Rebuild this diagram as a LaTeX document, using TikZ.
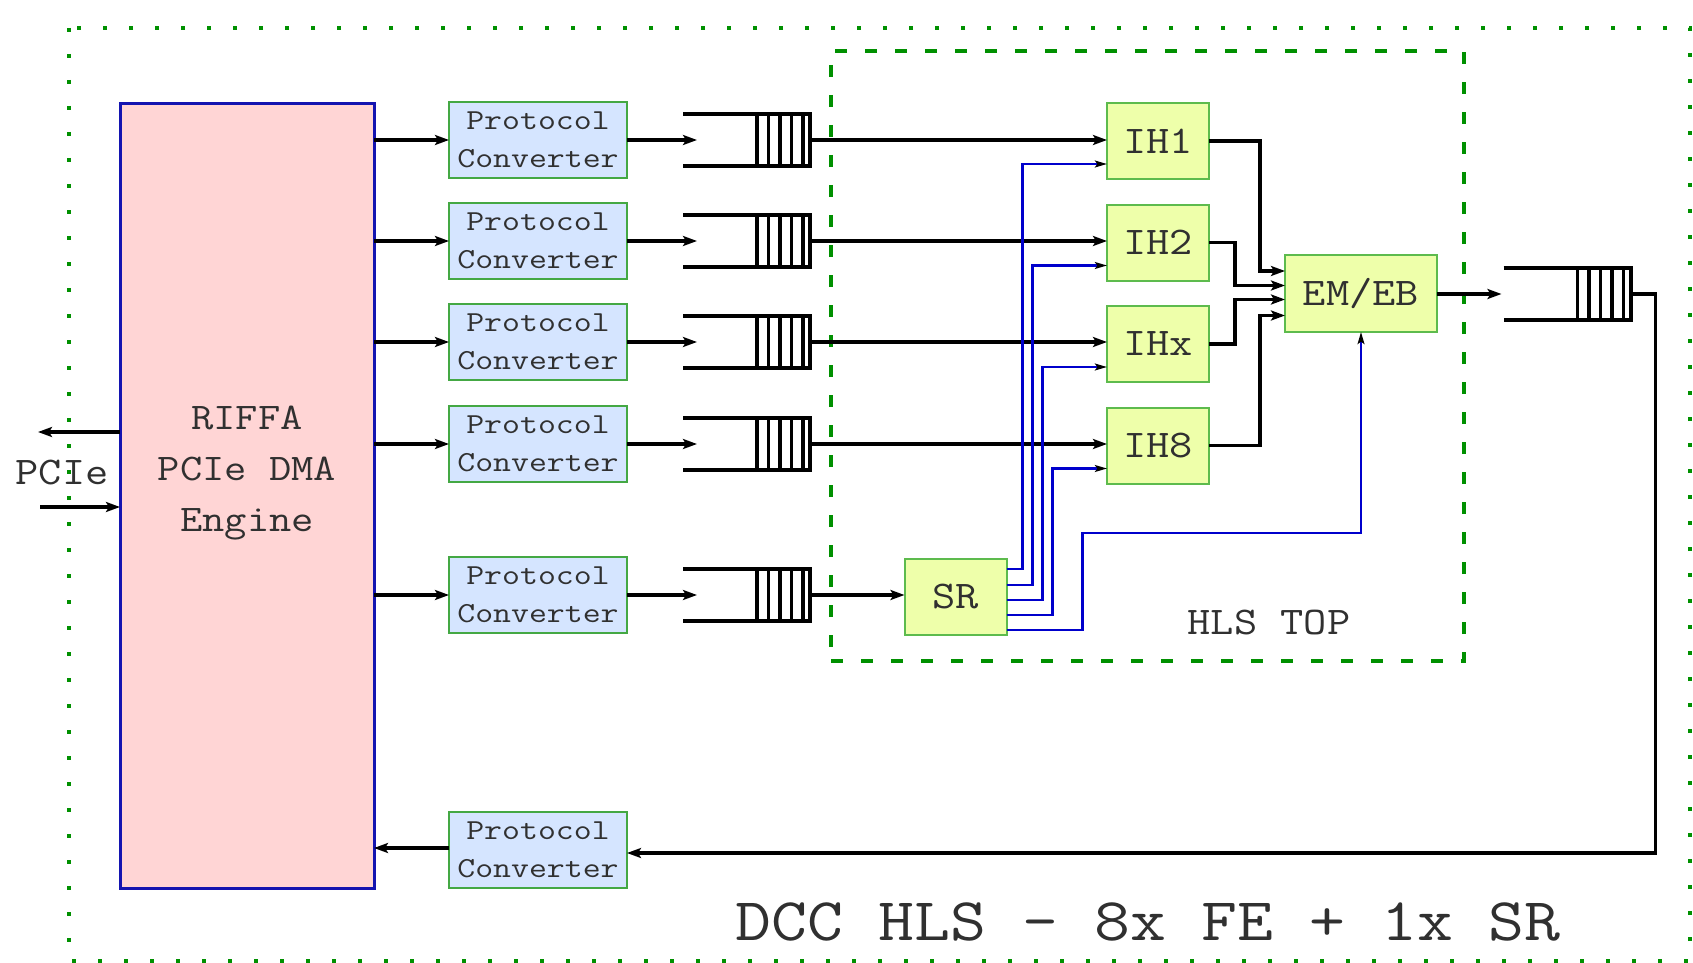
\documentclass[tikz,border=0pt]{standalone}
\usepackage{fontspec}
\usepackage{graphicx}
\usetikzlibrary{arrows.meta,calc}
\definecolor{riffafill}{HTML}{FFD5D5}
\definecolor{riffaline}{HTML}{1414B0}
\definecolor{pcfill}{HTML}{D5E5FF}
\definecolor{pcline}{HTML}{44A844}
\definecolor{ihfill}{HTML}{EEFFAA}
\definecolor{ihline}{HTML}{5DBB4D}
\definecolor{framegreen}{HTML}{009000}
\definecolor{sig}{HTML}{0000CC}
\definecolor{txt}{HTML}{303030}
\newcommand\wtxt[1]{\scalebox{1.15}[1]{#1}}
\newcommand\ptxt[1]{\scalebox{1.2}[1]{#1}}
\newcommand\fifo[3]{%
  \node[fifobox] (#1) at (#2,#3) {};
  \draw[line width=2pt] (#1.north west) -- (#1.north east) -- (#1.south east) -- (#1.south west);
  \foreach \k in {0,...,4}
    \draw[line width=1.7pt] ($(#1.north west)+(74+11.5*\k,0)$) -- ($(#1.south west)+(74+11.5*\k,0)$);
}
\begin{document}
\begin{tikzpicture}[x=0.5pt,y=-0.5pt,
  every node/.style={inner sep=0pt, outer sep=0pt, text=txt},
  riffa/.style={draw=riffaline, fill=riffafill, line width=1.5pt, minimum width=127pt, minimum height=392pt},
  bigtxt/.style={align=center, font=\ttfamily\fontsize{18.8}{25.5}\selectfont},
  conv/.style={draw=pcline, fill=pcfill, line width=1pt, minimum width=89pt, minimum height=38pt, align=center, font=\ttfamily\fontsize{14.5}{19}\selectfont},
  blk/.style={draw=ihline, fill=ihfill, line width=1pt, minimum width=51pt, minimum height=38pt, font=\ttfamily\fontsize{19.6}{24}\selectfont},
  lbl/.style={font=\ttfamily\fontsize{19.6}{24}\selectfont},
  fifobox/.style={minimum width=63.5pt, minimum height=26pt},
  arr/.style={line width=1.6pt, -{Stealth[length=7pt,width=5pt,inset=1.5pt]}},
  sarr/.style={draw=sig, line width=1.1pt, -{Stealth[length=6pt,width=3.4pt,inset=1.2pt,color=black]}}
]
\useasboundingbox (0,0) rectangle (1693,963);

% outer dotted frame
\draw[framegreen, line width=2pt, dash pattern=on 2pt off 11pt] (69,28) rectangle (1690,961);
% HLS TOP dashed frame
\node[draw=framegreen, line width=2pt, dash pattern=on 6pt off 9pt, minimum width=316.5pt, minimum height=305pt] (hls) at (1147.5,356) {};
\node[lbl] (hlstxt) at (1269,623) {\wtxt{HLS TOP}};

% RIFFA
\node[riffa] (riffa) at (247,496) {};
\node[bigtxt] (riffatxt) at (247,473) {\wtxt{RIFFA}\\\wtxt{PCIe DMA}\\\wtxt{Engine}};

% protocol converters
\foreach \i/\y in {1/140,2/241,3/342,4/444,5/595}
  \node[conv] (pc\i) at (538,\y) {\ptxt{Protocol}\\\ptxt{Converter}};
\node[conv] (pc6) at (538,850) {\ptxt{Protocol}\\\ptxt{Converter}};

% fifos
\fifo{q1}{746.5}{140}
\fifo{q2}{746.5}{241}
\fifo{q3}{746.5}{342}
\fifo{q4}{746.5}{444}
\fifo{q5}{746.5}{595}
\fifo{qo}{1567}{294}

% IH blocks
\node[blk] (ih1) at (1158,141) {\wtxt{IH1}};
\node[blk] (ih2) at (1158,242.5) {\wtxt{IH2}};
\node[blk] (ih3) at (1158,344) {\wtxt{IHx}};
\node[blk] (ih4) at (1158,445.5) {\wtxt{IH8}};
\node[blk] (sr) at (955.5,597) {\wtxt{SR}};
\node[blk, minimum width=76pt, minimum height=38.5pt] (emeb) at (1361,293.5) {\wtxt{EM/EB}};

% RIFFA -> converters -> fifos
\foreach \i in {1,...,5}{
  \draw[arr] (riffa.east |- pc\i) -- (pc\i.west);
  \draw[arr] (pc\i.east) -- ($(q\i.west)+(14,0)$);
}
% fifos -> IH / SR
\foreach \i in {1,...,4}
  \draw[arr] (q\i.east) -- (q\i.east -| ih\i.west);
\draw[arr] (q5.east) -- (q5.east -| sr.west);

% IH -> EM/EB
\draw[arr] (ih1.east) -- ++(51,0) |- ($(emeb.west)+(0,-22.5)$);
\draw[arr] (ih2.east) -- ++(26,0) |- ($(emeb.west)+(0,-8)$);
\draw[arr] (ih3.east) -- ++(26,0) |- ($(emeb.west)+(0,6)$);
\draw[arr] (ih4.east) -- ++(51,0) |- ($(emeb.west)+(0,22)$);

% SR -> IH / EM/EB (blue)
\draw[sarr] ($(sr.east)+(0,-28)$) -- ++(16,0) |- ($(ih1.west)+(0,23)$);
\draw[sarr] ($(sr.east)+(0,-12)$) -- ++(26,0) |- ($(ih2.west)+(0,23)$);
\draw[sarr] ($(sr.east)+(0,3)$) -- ++(36,0) |- ($(ih3.west)+(0,23)$);
\draw[sarr] ($(sr.east)+(0,18)$) -- ++(46,0) |- ($(ih4.west)+(0,23)$);
\draw[sarr] ($(sr.east)+(0,33)$) -- ++(76,0) -- ++(0,-97) -| (emeb.south);

% EM/EB -> output fifo -> converter -> RIFFA
\draw[arr] (emeb.east |- qo) -- ($(qo.west)+(-2,0)$);
\draw[arr] (qo.east) -- ++(25,0) |- ($(pc6.east)+(0,3)$);
\draw[arr] ($(pc6.west)+(0,-2)$) -- ($(pc6.west -| riffa.east)+(0,-2)$);

% PCIe
\coordinate (pout) at (38,432);
\coordinate (pin) at (40,507);
\draw[arr] (riffa.west |- pout) -- (pout);
\draw[arr] (pin) -- (pin -| riffa.west);
\node[lbl] (pcie) at (62,473) {\wtxt{PCIe}};

% title
\node[font=\ttfamily\fontsize{30.3}{34}\selectfont] (title) at (1148,922) {\wtxt{DCC HLS - 8x FE + 1x SR}};
\end{tikzpicture}
\end{document}
